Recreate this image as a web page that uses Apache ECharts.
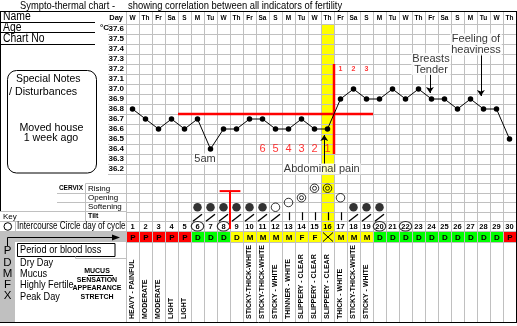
<!DOCTYPE html>
<html>
<head>
<meta charset="utf-8">
<script src="https://cdn.jsdelivr.net/npm/echarts@6/dist/echarts.min.js"></script>
<style>
  html, body { margin: 0; padding: 0; background: #fff; }
  #chart { width: 517px; height: 326px; }
</style>
</head>
<body>
<div id="chart"></div>
<script>
// ---- cycle data ----
const days = [1,2,3,4,5,6,7,8,9,10,11,12,13,14,15,16,17,18,19,20,21,22,23,24,25,26,27,28,29,30];
const weekdays = ['W','Th','Fr','Sa','S','M','Tu','W','Th','Fr','Sa','S','M','Tu','W','Th','Fr','Sa','S','M','Tu','W','Th','Fr','Sa','S','M','Tu','W','Th'];
const tempTicks = ['36.2','36.3','36.4','36.5','36.6','36.7','36.8','36.9','37.0','37.1','37.2','37.3','37.4','37.5','37.6'];
const temps = [36.8,36.7,36.6,36.7,36.6,36.7,36.4,36.6,36.6,36.7,36.7,36.6,36.6,36.7,36.6,36.6,36.9,37.0,36.9,36.9,37.0,36.9,37.0,36.9,36.9,36.8,36.9,36.8,36.8,36.5];

// cover line and temperature shift
const coverTemp = 36.75;
const coverDays = [4.5, 19.5];
const shiftDay = 16.5;
const shiftTemps = [37.25, 36.35];
const lowCountDays = [11,12,13,14,15,16];
const lowCountText = ['6','5','4','3','2','1'];
const highCountDays = [17,18,19];
const highCountText = ['1','2','3'];

// cervix observations per cycle day (level: 0 = softening row, 1 = opening row, 2 = rising row)
const cervixLevel = [null,null,null,null,null,0,0,0,0,0,0,0,0.5,1,2,2,1,0,0,0,null,null,null,null,null,null,null,null,null,null];
const cervixSign  = ['','','','','','closed','closed','closed','closed','closed','closed','open','open','wide','wide','wide','open','closed','closed','closed','','','','','','','','','',''];
const tiltSign    = ['','','','','','/','/','/','/','/','/','/','|','|','|','|','|','/','/','/','','','','','','','','','',''];
const cervixChangeDay = 8.5;

// intercourse, fertility codes and mucus notes
const intercourseDays = [6,8,20,22];
const fertilityCodes = ['P','P','P','P','P','D','D','D','D','M','M','M','M','F','F','X','M','M','M','D','D','D','D','D','D','D','D','D','D','P'];
const mucusWindow = [9, 19];
const mucusNotes = ['HEAVY - PAINFUL','MODERATE','MODERATE','LIGHT','LIGHT','','','','',
  'STICKY-THICK-WHITE','STICKY-THICK-WHITE','STICKY - WHITE','THINNER - WHITE',
  'SLIPPERY - CLEAR','SLIPPERY - CLEAR','SLIPPERY - CLEAR','THICK - WHITE',
  'STICKY-THICK-WHITE','STICKY - WHITE','','','','','','','','','','',''];

// annotations
const noteText = ['5am', 'Abdominal pain', 'Breasts\nTender', 'Feeling of\nheaviness'];
const noteDay  = [6.58, 15.56, 23.96, 27.42];
const noteTemp = [36.30, 36.20, 37.25, 37.445];
const arrowDay  = [15.75, 23.88, 27.8];
const arrowFrom = [36.25, 37.15, 37.35];
const arrowTo   = [36.54, 36.96, 36.93];

// ---- drawing ----
const FONT = '"Liberation Sans", Arial, sans-serif';
const GRID = '#c0c0c0';
const peakDay = fertilityCodes.indexOf('X') + 1;

const chart = echarts.init(document.getElementById('chart'));

const catX = (gridIndex, extra) => Object.assign({
  type: 'category', gridIndex, data: days, boundaryGap: true, z: 1,
  axisLine: { show: false }, axisTick: { show: false }, axisLabel: { show: false },
  splitLine: { show: true, interval: 0, lineStyle: { color: GRID, width: 1 } }
}, extra || {});
const valX = (gridIndex) => ({ type: 'value', gridIndex, min: 0.5, max: 30.5, show: false });

// static page furniture
const g = [];
function txt(x, y, text, o) {
  o = o || {};
  g.push({ type: 'text', x, y, scaleX: o.sx || 1, z: 100, silent: true,
    style: { text, fontSize: o.size || 10, fontFamily: FONT, fontWeight: o.bold ? 'bold' : 'normal',
      fill: o.color || '#000', align: o.align || 'left', verticalAlign: 'middle',
      textAlign: o.align || 'left', textVerticalAlign: 'middle' } });
}
function ln(x1, y1, x2, y2, color, w) {
  g.push({ type: 'line', z: 100, silent: true, shape: { x1, y1, x2, y2 }, style: { stroke: color || '#000', lineWidth: w || 1 } });
}
// title
txt(20, 6, 'Sympto-thermal chart -', { size: 10.5, sx: 0.89 });
txt(128, 6, 'showing correlation between all indicators of fertility', { size: 10.5, sx: 0.895 });
ln(0, 11.5, 517, 11.5);
ln(0.5, 11, 0.5, 211);
ln(516.5, 11, 516.5, 323);
ln(0, 322.5, 517, 322.5);
// identity block
txt(3, 17, 'Name', { size: 12.5, sx: 0.83 }); ln(0, 22.5, 95, 22.5);
txt(3, 28, 'Age', { size: 12.5, sx: 0.83 });  ln(0, 32.5, 95, 32.5);
txt(3, 39, 'Chart No', { size: 12.5, sx: 0.83 }); ln(0, 44.5, 95, 44.5);
txt(123, 17.5, 'Day', { size: 7.5, bold: true, align: 'right' });
txt(100, 27.5, '°C', { size: 8, bold: true });
// notes box
g.push({ type: 'rect', z: 100, silent: true, shape: { x: 7.5, y: 70.5, width: 89, height: 102.5, r: 9 }, style: { fill: 'none', stroke: '#000', lineWidth: 1 } });
txt(16, 79, 'Special Notes', { size: 11, sx: 0.95 });
txt(9, 92, '/ Disturbances', { size: 11, sx: 0.97 });
txt(51.5, 128, 'Moved house', { size: 11, sx: 0.97, align: 'center' });
txt(51, 138, '1 week ago', { size: 11, sx: 0.97, align: 'center' });
// cervix labels
txt(83, 188.5, 'CERVIX', { size: 6.5, bold: true, align: 'right' });
txt(88, 188.5, 'Rising', { size: 8 });
txt(88, 197.5, 'Opening', { size: 8 });
txt(88, 206.5, 'Softening', { size: 8 });
txt(88, 216.5, 'Tilt', { size: 7, bold: true });
txt(3, 216.5, 'Key', { size: 8 });
ln(85.5, 183.5, 126, 183.5, GRID);
ln(57, 193.5, 126, 193.5, GRID);
ln(57, 202.5, 126, 202.5, GRID);
ln(0, 211.5, 126, 211.5, GRID);
ln(0, 221.5, 126, 221.5, GRID);
ln(85.5, 183.5, 85.5, 221.5, GRID);
// intercourse key row
g.push({ type: 'circle', z: 100, silent: true, shape: { cx: 7.8, cy: 226.5, r: 3.8 }, style: { fill: 'none', stroke: '#000', lineWidth: 1 } });
ln(15.5, 221.5, 15.5, 231, GRID);
txt(17, 226.5, 'Intercourse Circle day of cycle', { size: 10, sx: 0.81 });
// fertility key
g.push({ type: 'rect', z: 99, silent: true, shape: { x: 0, y: 231, width: 126, height: 11 }, style: { fill: '#c0c0c0' } });
g.push({ type: 'rect', z: 99, silent: true, shape: { x: 0, y: 242, width: 15, height: 80.5 }, style: { fill: '#c0c0c0' } });
g.push({ type: 'polyline', z: 100, silent: true, shape: { points: [[7.5, 246], [7.5, 237.5], [114, 237.5]] }, style: { fill: 'none', stroke: '#000', lineWidth: 1 } });
g.push({ type: 'polygon', z: 100, silent: true, shape: { points: [[112, 234.5], [120, 237.5], [112, 240.5]] }, style: { fill: '#000' } });
[['P', 250.5], ['D', 262.5], ['M', 273.5], ['F', 284.5], ['X', 296]].forEach(([t, y]) => txt(7.5, y, t, { size: 11.5, align: 'center' }));
g.push({ type: 'rect', z: 100, silent: true, shape: { x: 17.5, y: 243.5, width: 97.5, height: 13 }, style: { fill: 'none', stroke: '#000', lineWidth: 1 } });
txt(20, 250, 'Period or blood loss', { size: 11.5, sx: 0.8 });
txt(20, 262.5, 'Dry Day', { size: 11.5, sx: 0.8 });
txt(20, 273.5, 'Mucus', { size: 11.5, sx: 0.8 });
txt(20, 285, 'Highly Fertile', { size: 11.5, sx: 0.8 });
txt(20, 296.5, 'Peak Day', { size: 11.5, sx: 0.8 });
ln(75.5, 256.5, 75.5, 258.5, GRID); ln(75.5, 258.5, 126, 258.5, GRID);
txt(97, 271, 'MUCUS', { size: 7, bold: true, align: 'center' });
ln(88, 275.5, 113, 275.5);
txt(97, 280, 'SENSATION', { size: 7, bold: true, align: 'center' });
txt(97, 288.5, 'APPEARANCE', { size: 7, bold: true, align: 'center' });
txt(97, 297.5, 'STRETCH', { size: 7, bold: true, align: 'center' });

function crisp(v) { return Math.round(v) + 0.5; }

// cervix signs as [day, row] pairs for the scatter layers
const cervixPoints = sign => days
  .map((d, i) => [d, cervixLevel[i] === null ? null : 3.5 - cervixLevel[i], cervixSign[i]])
  .filter(r => r[2] === sign || (sign === 'ring' && (r[2] === 'open' || r[2] === 'wide')));

const option = {
  animation: false,
  backgroundColor: '#fff',
  textStyle: { fontFamily: FONT },
  grid: [
    { left: 126, top: 24, width: 390, height: 150 },
    { left: 126, top: 174, width: 390, height: 57 },
    { left: 126, top: 231, width: 390, height: 11 },
    { left: 126, top: 242, width: 390, height: 80 }
  ],
  xAxis: [
    catX(0, { data: weekdays, position: 'top',
      axisLine: { show: true, lineStyle: { color: GRID } },
      axisTick: { show: true, interval: 0, length: 12, lineStyle: { color: GRID } },
      axisLabel: { show: true, interval: 0, margin: 2, fontSize: 6.5, fontWeight: 'bold', color: '#000', fontFamily: FONT } }),
    valX(0),
    catX(1),
    valX(1),
    valX(2),
    catX(3),
    valX(3)
  ],
  yAxis: [
    { type: 'category', gridIndex: 0, data: tempTicks, boundaryGap: true, z: 1,
      axisLine: { show: true, lineStyle: { color: GRID } },
      axisTick: { show: true, interval: 0, length: 18, lineStyle: { color: GRID } },
      axisLabel: { interval: 0, margin: 2, fontSize: 8, fontWeight: 'bold', color: '#000', fontFamily: FONT },
      splitLine: { show: true, interval: 0, lineStyle: { color: GRID } } },
    { type: 'value', gridIndex: 0, min: 36.15, max: 37.65, show: false },
    { type: 'value', gridIndex: 1, min: 0, max: 6, interval: 1, inverse: true, z: 1,
      axisLine: { show: false }, axisTick: { show: false }, axisLabel: { show: false },
      splitLine: { show: true, lineStyle: { color: GRID } } },
    { type: 'value', gridIndex: 2, min: 0, max: 1, show: false },
    { type: 'value', gridIndex: 3, min: 0, max: 80, show: false }
  ],
  graphic: { elements: g },
  series: [
    // peak-day column, temperature part
    { type: 'custom', xAxisIndex: 1, yAxisIndex: 1, z: 0, silent: true, data: [[peakDay]],
      renderItem: (p, api) => {
        const a = api.coord([api.value(0) - 0.5, 37.65]), b = api.coord([api.value(0) + 0.5, 36.15]);
        return { type: 'rect', shape: { x: a[0], y: a[1], width: b[0] - a[0], height: b[1] - a[1] }, style: { fill: '#ffff00' } };
      } },
    // peak-day column, cervix part
    { type: 'custom', xAxisIndex: 3, yAxisIndex: 2, z: 0, silent: true, data: [[peakDay]],
      renderItem: (p, api) => {
        const a = api.coord([api.value(0) - 0.5, 0]), b = api.coord([api.value(0) + 0.5, 6]);
        return { type: 'rect', shape: { x: a[0], y: a[1], width: b[0] - a[0], height: b[1] - a[1] }, style: { fill: '#ffff00' } };
      } },
    // cover line
    { type: 'line', xAxisIndex: 1, yAxisIndex: 1, z: 3, symbol: 'none', silent: true,
      data: coverDays.map(d => [d, coverTemp]), lineStyle: { color: '#ff0000', width: 2.5 } },
    // temperature shift marker
    { type: 'line', xAxisIndex: 1, yAxisIndex: 1, z: 3, symbol: 'none', silent: true,
      data: shiftTemps.map(t => [shiftDay, t]), lineStyle: { color: '#ff0000', width: 2.5 } },
    // basal temperature
    { type: 'line', xAxisIndex: 1, yAxisIndex: 1, z: 5, silent: true,
      data: temps.map((t, i) => [days[i], t]),
      symbol: 'circle', symbolSize: 5.5, itemStyle: { color: '#000' },
      lineStyle: { color: '#000', width: 1 } },
    // low-phase count
    { type: 'scatter', xAxisIndex: 1, yAxisIndex: 1, z: 4, silent: true, symbolSize: 1, itemStyle: { color: 'rgba(0,0,0,0)' },
      data: lowCountDays.map((d, i) => [d, 36.4, lowCountText[i]]),
      label: { show: true, position: 'inside', formatter: p => p.data[2], color: '#ff0000', fontSize: 11, fontFamily: FONT } },
    // high-phase count
    { type: 'scatter', xAxisIndex: 1, yAxisIndex: 1, z: 4, silent: true, symbolSize: 1, itemStyle: { color: 'rgba(0,0,0,0)' },
      data: highCountDays.map((d, i) => [d, 37.2, highCountText[i]]),
      label: { show: true, position: 'inside', formatter: p => p.data[2], color: '#ff0000', fontSize: 7, fontWeight: 'bold', fontFamily: FONT } },
    // annotation arrows
    { type: 'lines', coordinateSystem: 'cartesian2d', xAxisIndex: 1, yAxisIndex: 1, z: 4, silent: true,
      symbol: ['none', 'arrow'], symbolSize: 6,
      data: arrowDay.map((d, i) => ({ coords: [[d, arrowFrom[i]], [d, arrowTo[i]]] })),
      lineStyle: { color: '#000', width: 1, opacity: 1 } },
    // annotation texts
    { type: 'scatter', xAxisIndex: 1, yAxisIndex: 1, z: 6, silent: true, symbolSize: 1, itemStyle: { color: 'rgba(0,0,0,0)' },
      data: noteText.map((t, i) => [noteDay[i], noteTemp[i], t]),
      label: { show: true, position: 'inside', formatter: p => p.data[2], color: '#000', fontSize: 11, lineHeight: 11,
        fontFamily: FONT, backgroundColor: '#fff', padding: [0, 1] } },
    // cervix: closed
    { type: 'scatter', xAxisIndex: 3, yAxisIndex: 2, z: 5, silent: true, symbol: 'circle', symbolSize: 8.5,
      itemStyle: { color: '#000' }, data: cervixPoints('closed') },
    // cervix: open / wide (outer ring)
    { type: 'scatter', xAxisIndex: 3, yAxisIndex: 2, z: 5, silent: true, symbol: 'circle', symbolSize: 8.5,
      itemStyle: { color: 'rgba(0,0,0,0)', borderColor: '#000', borderWidth: 1 }, data: cervixPoints('ring') },
    // cervix: wide (inner ring)
    { type: 'scatter', xAxisIndex: 3, yAxisIndex: 2, z: 5, silent: true, symbol: 'circle', symbolSize: 4,
      itemStyle: { color: 'rgba(0,0,0,0)', borderColor: '#000', borderWidth: 1 }, data: cervixPoints('wide') },
    // cervix change marker
    { type: 'custom', xAxisIndex: 3, yAxisIndex: 2, z: 6, silent: true, data: [[cervixChangeDay]],
      renderItem: (p, api) => {
        const d = api.value(0);
        const top = api.coord([d, 1.8]), bot = api.coord([d, 5.8]);
        const l = api.coord([d - 0.8, 1.8]), r = api.coord([d + 0.8, 1.8]);
        return { type: 'group', children: [
          { type: 'line', shape: { x1: top[0], y1: top[1], x2: bot[0], y2: bot[1] }, style: { stroke: '#ff0000', lineWidth: 2 } },
          { type: 'line', shape: { x1: l[0], y1: l[1], x2: r[0], y2: r[1] }, style: { stroke: '#ff0000', lineWidth: 2 } }
        ] };
      } },
    // day of cycle numbers, with the tilt sign drawn in the row above
    { type: 'custom', xAxisIndex: 3, yAxisIndex: 2, z: 6, silent: true, data: days.map(d => [d]),
      renderItem: (p, api) => {
        const d = api.value(0);
        const c = api.coord([d, 5.5]);
        const t = api.coord([d, 4.5]);
        const kids = [{ type: 'text', x: c[0], y: c[1] + 0.5,
          style: { text: String(d), fontSize: 7.5, fontWeight: 'bold', fontFamily: FONT, fill: '#000',
            align: 'center', verticalAlign: 'middle', textAlign: 'center', textVerticalAlign: 'middle' } }];
        const tilt = tiltSign[p.dataIndex];
        if (tilt === '/') {
          kids.push({ type: 'line', shape: { x1: t[0] - 4.5, y1: t[1] + 4.5, x2: t[0] + 4.5, y2: t[1] - 2.5 },
            style: { stroke: '#000', lineWidth: 1.4 } });
        } else if (tilt === '|') {
          kids.push({ type: 'line', shape: { x1: crisp(t[0]), y1: t[1] - 4.5, x2: crisp(t[0]), y2: t[1] + 3.5 },
            style: { stroke: '#000', lineWidth: 1.2 } });
        }
        return { type: 'group', children: kids };
      } },
    // intercourse circles
    { type: 'scatter', xAxisIndex: 3, yAxisIndex: 2, z: 5, silent: true, symbol: 'circle', symbolSize: [12.5, 9.5],
      itemStyle: { color: 'rgba(0,0,0,0)', borderColor: '#000', borderWidth: 1 },
      data: intercourseDays.map(d => [d, 5.5]) },
    // fertility code cells
    { type: 'custom', xAxisIndex: 4, yAxisIndex: 3, z: 5, silent: true, data: days.map(d => [d]),
      renderItem: (p, api) => {
        const d = api.value(0), code = fertilityCodes[p.dataIndex];
        const a = api.coord([d - 0.5, 1]), b = api.coord([d + 0.5, 0]);
        const x0 = crisp(a[0]), y0 = crisp(a[1]), w = Math.round(b[0] - a[0]), h = Math.round(b[1] - a[1]);
        const fill = code === 'P' ? '#ff0000' : (d >= mucusWindow[0] && d <= mucusWindow[1] ? '#ffff00' : '#00ff00');
        const kids = [{ type: 'rect', shape: { x: x0, y: y0, width: w, height: h }, style: { fill, stroke: GRID, lineWidth: 1 } }];
        if (code === 'X') {
          kids.push({ type: 'line', shape: { x1: x0 + 1.5, y1: y0 + 1, x2: x0 + w - 1.5, y2: y0 + h - 1 }, style: { stroke: '#000', lineWidth: 1 } });
          kids.push({ type: 'line', shape: { x1: x0 + w - 1.5, y1: y0 + 1, x2: x0 + 1.5, y2: y0 + h - 1 }, style: { stroke: '#000', lineWidth: 1 } });
        } else {
          kids.push({ type: 'text', x: x0 + w / 2, y: y0 + h / 2 + 0.5,
            style: { text: code, fontSize: 8, fontWeight: 'bold', fontFamily: FONT, fill: '#000',
              align: 'center', verticalAlign: 'middle', textAlign: 'center', textVerticalAlign: 'middle' } });
        }
        return { type: 'group', children: kids };
      } },
    // mucus descriptions
    { type: 'custom', xAxisIndex: 6, yAxisIndex: 4, z: 5, silent: true, data: days.map(d => [d]),
      renderItem: (p, api) => {
        const c = api.coord([api.value(0), 3]);
        return { type: 'text', x: c[0], y: c[1], rotation: Math.PI / 2,
          style: { text: mucusNotes[p.dataIndex], fontSize: 7, fontWeight: 'bold', fontFamily: FONT, fill: '#000',
            align: 'left', verticalAlign: 'middle', textAlign: 'left', textVerticalAlign: 'middle' } };
      } }
  ]
};
chart.setOption(option);
</script>
</body>
</html>
